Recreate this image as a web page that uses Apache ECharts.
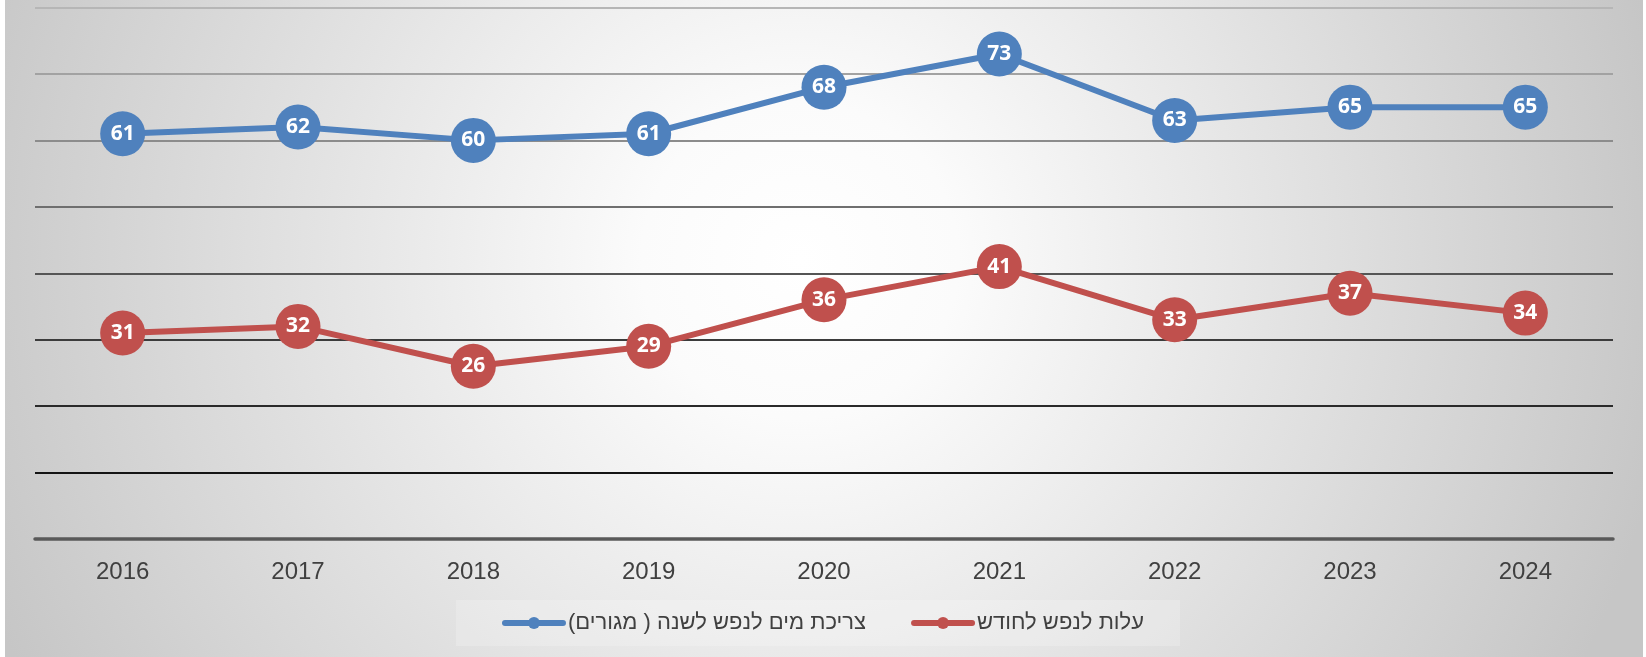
<!DOCTYPE html>
<html>
<head>
<meta charset="utf-8">
<script src="https://cdn.jsdelivr.net/npm/echarts@6/dist/echarts.min.js"></script>
<style>
  html, body { margin: 0; padding: 0; background: #ffffff; }
  #main { width: 1646px; height: 657px; }
</style>
</head>
<body>
<div id="main"></div>
<script>
// years on the x axis
var years = ["2016", "2017", "2018", "2019", "2020", "2021", "2022", "2023", "2024"];
// water use per person per year (homes)
var waterUse = [61, 62, 60, 61, 68, 73, 63, 65, 65];
// cost per person per month
var costPerMonth = [31, 32, 26, 29, 36, 41, 33, 37, 34];

var waterName = "\u202Bצריכת מים לנפש לשנה ( מגורים)\u202C";
var costName = "\u202Bעלות לנפש לחודש\u202C";

// grid line colours, from 0 upward (they get lighter toward the top)
var gridColors = ["#595959", "#141414", "#2a2a2a", "#3c3c3c", "#555555", "#6f6f6f", "#8c8c8c", "#a2a2a2", "#b6b6b6"];

var myChart = echarts.init(document.getElementById("main"));
myChart.setOption({
    animation: false,
    graphic: [{
        type: "rect",
        z: -10,
        silent: true,
        shape: { x: 5, y: 0, width: 1638, height: 657 },
        style: {
            fill: {
                type: "radial",
                x: 800, y: 260, r: 880,
                global: true,
                colorStops: [
                    { offset: 0, color: "#ffffff" },
                    { offset: 0.18, color: "#fbfbfb" },
                    { offset: 0.55, color: "#e3e3e3" },
                    { offset: 1, color: "#c6c6c6" }
                ]
            }
        }
    }],
    grid: {
        left: 35,
        right: 33,
        top: 7.5,
        bottom: 118
    },
    legend: {
        data: [waterName, costName],
        bottom: 11,
        left: "center",
        padding: [12, 36, 12, 46],
        itemGap: 45,
        itemWidth: 58,
        itemHeight: 15,
        backgroundColor: "rgba(255,255,255,0.2)",
        lineStyle: { width: 6, cap: "round" },
        textStyle: {
            fontFamily: "Liberation Sans, DejaVu Sans, sans-serif",
            fontSize: 22,
            color: "#404040"
        }
    },
    xAxis: {
        type: "category",
        data: years,
        axisLine: { lineStyle: { color: "#595959", width: 3.5 } },
        axisTick: { show: false },
        axisLabel: {
            margin: 21,
            fontFamily: "Liberation Sans, Arial, sans-serif",
            fontSize: 24,
            color: "#404040"
        }
    },
    yAxis: {
        type: "value",
        min: 0,
        max: 80,
        interval: 10,
        axisLabel: { show: false },
        axisLine: { show: false },
        axisTick: { show: false },
        splitLine: { lineStyle: { color: gridColors, width: 2 } }
    },
    series: [
        {
            name: waterName,
            type: "line",
            data: waterUse,
            symbol: "circle",
            symbolSize: 45,
            itemStyle: { color: "#4F81BD" },
            lineStyle: { color: "#4F81BD", width: 6 },
            label: {
                show: true,
                position: "inside",
                color: "#ffffff",
                fontFamily: "Noto Sans, sans-serif",
                fontWeight: "bold",
                fontSize: 21
            }
        },
        {
            name: costName,
            type: "line",
            data: costPerMonth,
            symbol: "circle",
            symbolSize: 45,
            itemStyle: { color: "#C0504D" },
            lineStyle: { color: "#C0504D", width: 6 },
            label: {
                show: true,
                position: "inside",
                color: "#ffffff",
                fontFamily: "Noto Sans, sans-serif",
                fontWeight: "bold",
                fontSize: 21
            }
        }
    ]
});
</script>
</body>
</html>
